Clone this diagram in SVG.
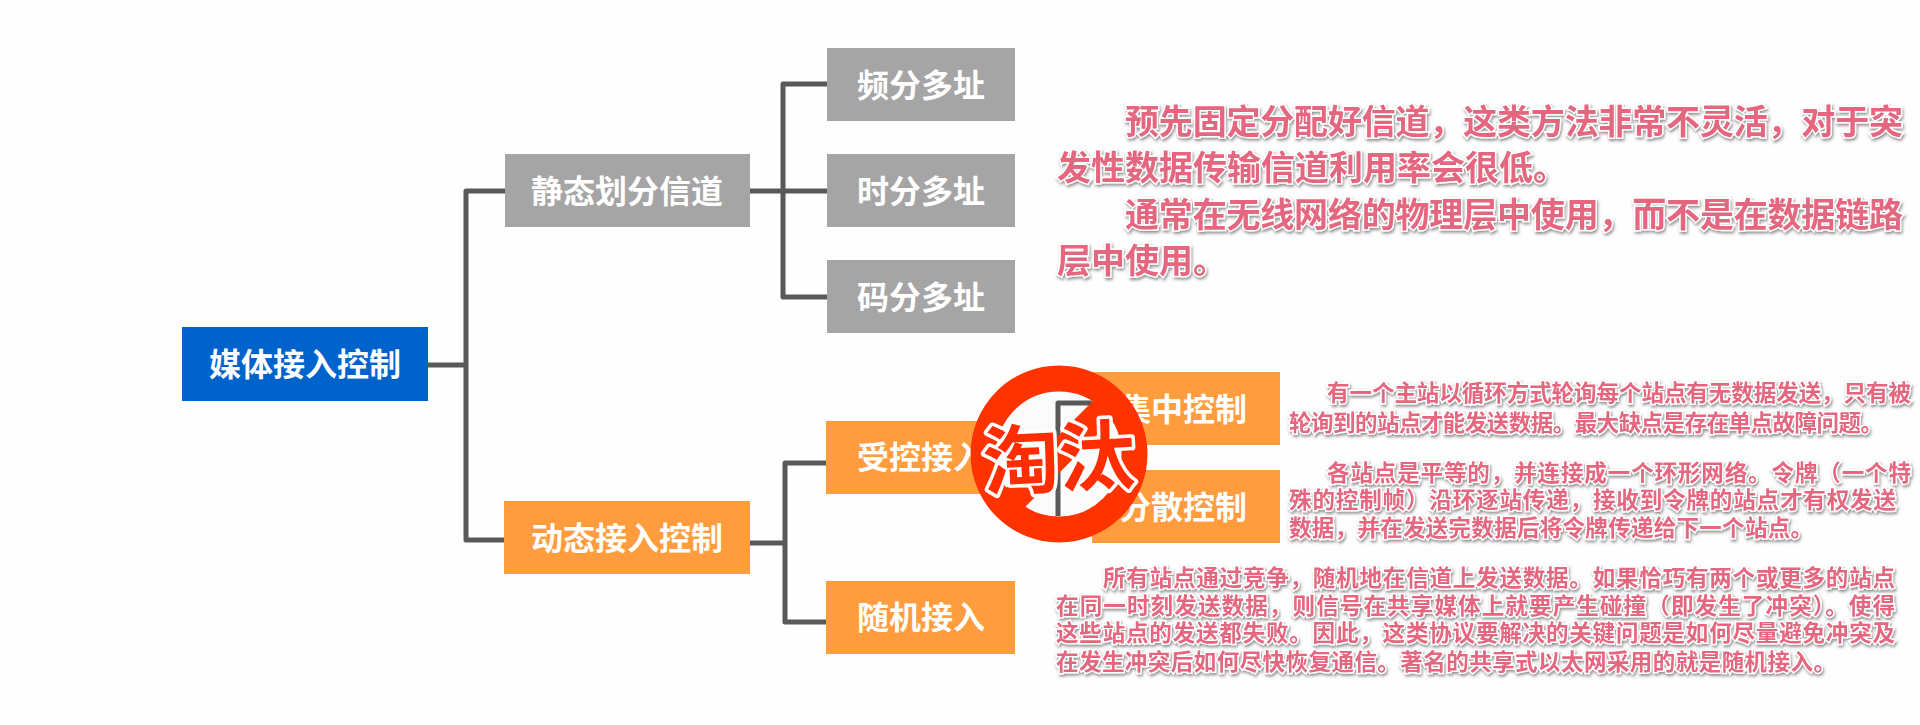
<svg xmlns="http://www.w3.org/2000/svg" width="1920" height="725" viewBox="0 0 1920 725">
<style>
text{font-family:"Noto Sans CJK SC","Liberation Sans",sans-serif;font-weight:700}
.lb{fill:#fff;font-size:32px;text-anchor:middle}
.g{fill:#a5a5a5}.o{fill:#ff9c3e}.b{fill:#0063cc}
.c{fill:none;stroke:#595959;stroke-width:5;stroke-linejoin:round}
.n{fill:#e4667f;stroke:#fff;stroke-width:3px;paint-order:stroke;filter:url(#sh)}
.big{font-size:34px}.sm{font-size:22.5px}
</style>
<defs><filter id="sh" x="-5%" y="-30%" width="110%" height="170%"><feDropShadow dx="1" dy="2" stdDeviation="1.5" flood-color="#444" flood-opacity=".6"/></filter></defs>
<rect width="1920" height="725" fill="#fefefe"/>
<g id="connectors">
<path class="c" d="M428 365H466M505 191H466V540H505"/>
<path class="c" d="M750 191H827M827 84H783V297H827"/>
<path class="c" d="M750 543H785M826 463H785V622H826"/>
</g>
<g id="root"><rect class="b" x="182" y="327" width="246" height="74"/><text class="lb" x="305" y="376">媒体接入控制</text></g>
<g id="static"><rect class="g" x="505" y="154" width="245" height="73"/><text class="lb" x="627" y="203">静态划分信道</text></g>
<g id="fdma"><rect class="g" x="827" y="48" width="188" height="73"/><text class="lb" x="921" y="97">频分多址</text></g>
<g id="tdma"><rect class="g" x="827" y="154" width="188" height="73"/><text class="lb" x="921" y="203">时分多址</text></g>
<g id="cdma"><rect class="g" x="827" y="260" width="188" height="73"/><text class="lb" x="921" y="309">码分多址</text></g>
<g id="dynamic"><rect class="o" x="504" y="501" width="246" height="73"/><text class="lb" x="627" y="550">动态接入控制</text></g>
<g id="controlled"><rect class="o" x="826" y="421" width="189" height="73"/><text class="lb" x="921" y="469">受控接入</text></g>
<g id="random"><rect class="o" x="826" y="581" width="189" height="73"/><text class="lb" x="921" y="629">随机接入</text></g>
<g id="central"><rect class="o" x="1092" y="372" width="188" height="73"/><text class="lb" x="1183" y="421">集中控制</text></g>
<g id="distributed"><rect class="o" x="1092" y="470" width="188" height="73"/><text class="lb" x="1183" y="519">分散控制</text></g>
<g id="note-static">
<text class="n big" x="1125" y="134" textLength="778">预先固定分配好信道，这类方法非常不灵活，对于突</text>
<text class="n big" x="1057" y="180">发性数据传输信道利用率会很低。</text>
<text class="n big" x="1125" y="227" textLength="778">通常在无线网络的物理层中使用，而不是在数据链路</text>
<text class="n big" x="1057" y="273">层中使用。</text>
</g>
<g id="note-central">
<text class="n sm" x="1327" y="401" textLength="584">有一个主站以循环方式轮询每个站点有无数据发送，只有被</text>
<text class="n sm" x="1289" y="431" textLength="594">轮询到的站点才能发送数据。最大缺点是存在单点故障问题。</text>
</g>
<g id="note-distributed">
<text class="n sm" x="1327" y="481" textLength="584">各站点是平等的，并连接成一个环形网络。令牌（一个特</text>
<text class="n sm" x="1289" y="508" textLength="607">殊的控制帧）沿环逐站传递，接收到令牌的站点才有权发送</text>
<text class="n sm" x="1289" y="536" textLength="524">数据，并在发送完数据后将令牌传递给下一个站点。</text>
</g>
<g id="note-random">
<text class="n sm" x="1103" y="586" textLength="792">所有站点通过竞争，随机地在信道上发送数据。如果恰巧有两个或更多的站点</text>
<text class="n sm" x="1056" y="614" textLength="839">在同一时刻发送数据，则信号在共享媒体上就要产生碰撞（即发生了冲突）。使得</text>
<text class="n sm" x="1056" y="641" textLength="839">这些站点的发送都失败。因此，这类协议要解决的关键问题是如何尽量避免冲突及</text>
<text class="n sm" x="1056" y="670" textLength="780">在发生冲突后如何尽快恢复通信。著名的共享式以太网采用的就是随机接入。</text>
</g>
<g id="stamp">
<circle cx="1059" cy="454" r="75.5" fill="#fbfbfc"/>
<path class="c" d="M1092 403H1058V516"/>
<circle cx="1059" cy="454" r="75.5" fill="none" stroke="#ff3300" stroke-width="26"/>
<path d="M1112 401L1006 507" stroke="#ff3300" stroke-width="27"/>
<text x="1059" y="486" font-size="76" text-anchor="middle" fill="#ff2d00" stroke="#fff" stroke-width="7" stroke-linejoin="round" paint-order="stroke" transform="rotate(-3 1059 460)">淘汰</text>
</g>
</svg>
